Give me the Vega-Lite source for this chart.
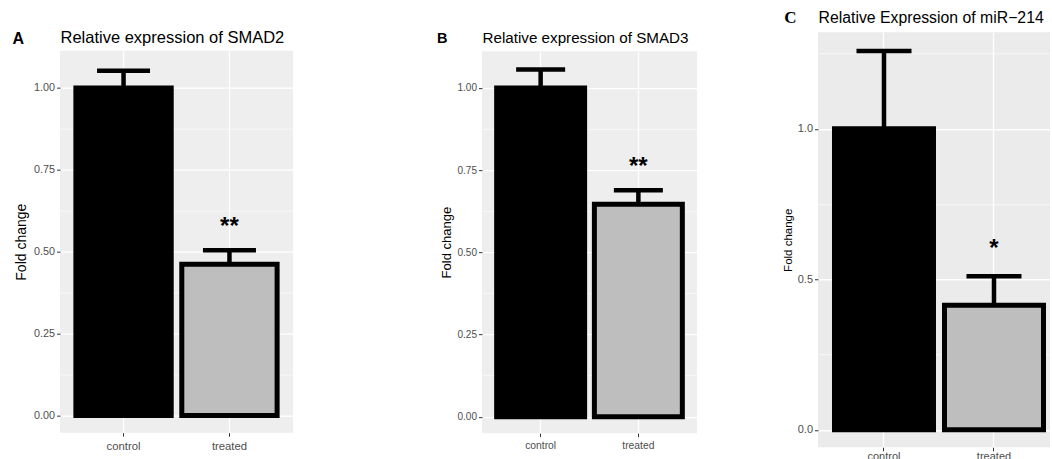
{
  "$schema": "https://vega.github.io/schema/vega-lite/v6.json",
  "padding": {"left": 12, "top": 9, "right": 0, "bottom": 0},
  "background": "white",
  "config": {"font": "Liberation Sans", "view": {"stroke": null}},
  "spacing": 85,
  "center": true,
  "hconcat": [
    {
      "spacing": 144,
      "center": true,
      "title": {"text": " ", "fontSize": 12, "offset": 4, "anchor": "start"},
      "hconcat": [
        {
          "width": 233,
          "height": 382,
          "view": {"fill": "#EEEEEE", "stroke": null},
          "title": {"text": "A", "anchor": "start", "frame": "bounds", "offset": -17.5, "dx": -2, "font": "Liberation Sans", "fontSize": 16, "fontWeight": "bold", "color": "black"},
          "data": {"values": [
            {"group": "control", "mean": 1.0, "upper": 1.053, "sig": ""},
            {"group": "treated", "mean": 0.462, "upper": 0.505, "sig": "**"}
          ]},
          "layer": [
            {
              "mark": {"type": "bar", "stroke": "black", "strokeWidth": 5},
              "encoding": {
                "x": {"field": "group", "type": "nominal", "title": null, "scale": {"paddingInner": 0.1, "paddingOuter": 0.15},
                  "axis": {"orient": "bottom", "labelAngle": 0, "labelColor": "#4D4D4D", "labelFontSize": 11.3, "tickColor": "#333333", "tickSize": 3.5, "domain": false, "grid": true, "gridColor": "white", "gridWidth": 1.3, "labelPadding": 4}},
                "y": {"field": "mean", "type": "quantitative", "title": "Fold change", "scale": {"domain": [-0.052, 1.114], "nice": false},
                  "axis": {"values": [0, 0.125, 0.25, 0.375, 0.5, 0.625, 0.75, 0.875, 1.0], "labelExpr": "datum.value % 0.25 === 0 ? format(datum.value, '.2f') : ''", "labelOverlap": false, "labelColor": "#4D4D4D", "labelFontSize": 10.8, "labelPadding": 2, "tickColor": "#333333", "tickSize": 3.5, "tickOpacity": {"condition": {"test": "datum.value % 0.25 === 0", "value": 1}, "value": 0}, "domain": false, "grid": true, "gridColor": "white", "gridWidth": {"condition": {"test": "datum.value % 0.25 === 0", "value": 1.3}, "value": 0.6}, "titleFontSize": 14, "titleFontWeight": "normal", "titleColor": "black", "titlePadding": 5}},
                "fill": {"field": "group", "type": "nominal", "scale": {"range": ["black", "#BEBEBE"]}, "legend": null}
              }
            },
            {
              "mark": {"type": "rule", "strokeWidth": 4.5, "color": "black"},
              "encoding": {
                "x": {"field": "group", "type": "nominal", "axis": {"orient": "top", "title": "Relative expression of SMAD2", "labels": false, "ticks": false, "domain": false, "grid": false, "titleAnchor": "start", "titleFontSize": 16.5, "titleFontWeight": "normal", "titleColor": "black", "titlePadding": 5}},
                "y": {"field": "mean", "type": "quantitative"},
                "y2": {"field": "upper"}
              }
            },
            {
              "mark": {"type": "tick", "orient": "horizontal", "thickness": 4.5, "size": 53, "color": "black", "opacity": 1},
              "encoding": {
                "x": {"field": "group", "type": "nominal", "axis": null},
                "y": {"field": "upper", "type": "quantitative"}
              }
            },
            {
              "mark": {"type": "text", "fontSize": 24, "fontWeight": "bold", "dy": -23, "baseline": "middle", "color": "black"},
              "encoding": {
                "x": {"field": "group", "type": "nominal", "axis": null},
                "y": {"field": "upper", "type": "quantitative"},
                "text": {"field": "sig"}
              }
            }
          ],
          "resolve": {"axis": {"x": "independent"}}
        },
        {
          "width": 215,
          "height": 382,
          "view": {"fill": "#EEEEEE", "stroke": null},
          "title": {"text": "B", "anchor": "start", "frame": "bounds", "offset": -16, "dx": -3, "font": "Liberation Sans", "fontSize": 14.5, "fontWeight": "bold", "color": "black"},
          "data": {"values": [
            {"group": "control", "mean": 1.0, "upper": 1.056, "sig": ""},
            {"group": "treated", "mean": 0.646, "upper": 0.689, "sig": "**"}
          ]},
          "layer": [
            {
              "mark": {"type": "bar", "stroke": "black", "strokeWidth": 5},
              "encoding": {
                "x": {"field": "group", "type": "nominal", "title": null, "scale": {"paddingInner": 0.1, "paddingOuter": 0.15},
                  "axis": {"orient": "bottom", "labelAngle": 0, "labelColor": "#4D4D4D", "labelFontSize": 10.3, "tickColor": "#333333", "tickSize": 3.5, "domain": false, "grid": true, "gridColor": "white", "gridWidth": 1.3, "labelPadding": 4}},
                "y": {"field": "mean", "type": "quantitative", "title": "Fold change", "scale": {"domain": [-0.05, 1.112], "nice": false},
                  "axis": {"values": [0, 0.125, 0.25, 0.375, 0.5, 0.625, 0.75, 0.875, 1.0], "labelExpr": "datum.value % 0.25 === 0 ? format(datum.value, '.2f') : ''", "labelOverlap": false, "labelColor": "#4D4D4D", "labelFontSize": 10, "labelPadding": 2, "tickColor": "#333333", "tickSize": 3.5, "tickOpacity": {"condition": {"test": "datum.value % 0.25 === 0", "value": 1}, "value": 0}, "domain": false, "grid": true, "gridColor": "white", "gridWidth": {"condition": {"test": "datum.value % 0.25 === 0", "value": 1.3}, "value": 0.6}, "titleFontSize": 13, "titleFontWeight": "normal", "titleColor": "black", "titlePadding": 4}},
                "fill": {"field": "group", "type": "nominal", "scale": {"range": ["black", "#BEBEBE"]}, "legend": null}
              }
            },
            {
              "mark": {"type": "rule", "strokeWidth": 4.5, "color": "black"},
              "encoding": {
                "x": {"field": "group", "type": "nominal", "axis": {"orient": "top", "title": "Relative expression of SMAD3", "labels": false, "ticks": false, "domain": false, "grid": false, "titleAnchor": "start", "titleFontSize": 15.2, "titleFontWeight": "normal", "titleColor": "black", "titlePadding": 6}},
                "y": {"field": "mean", "type": "quantitative"},
                "y2": {"field": "upper"}
              }
            },
            {
              "mark": {"type": "tick", "orient": "horizontal", "thickness": 4.5, "size": 49, "color": "black", "opacity": 1},
              "encoding": {
                "x": {"field": "group", "type": "nominal", "axis": null},
                "y": {"field": "upper", "type": "quantitative"}
              }
            },
            {
              "mark": {"type": "text", "fontSize": 24, "fontWeight": "bold", "dy": -23, "baseline": "middle", "color": "black"},
              "encoding": {
                "x": {"field": "group", "type": "nominal", "axis": null},
                "y": {"field": "upper", "type": "quantitative"},
                "text": {"field": "sig"}
              }
            }
          ],
          "resolve": {"axis": {"x": "independent"}}
        }
      ]
    },
    {
      "width": 232,
      "height": 415,
      "view": {"fill": "#EBEBEB", "stroke": null},
      "title": {"text": "C", "anchor": "start", "frame": "bounds", "offset": -18, "dx": 2, "font": "Liberation Serif", "fontSize": 17, "fontWeight": "bold", "color": "black"},
      "data": {"values": [
        {"group": "control", "mean": 1.0, "upper": 1.259, "sig": ""},
        {"group": "treated", "mean": 0.414, "upper": 0.51, "sig": "*"}
      ]},
      "layer": [
        {
          "mark": {"type": "bar", "stroke": "black", "strokeWidth": 5},
          "encoding": {
            "x": {"field": "group", "type": "nominal", "title": null, "scale": {"paddingInner": 0.1, "paddingOuter": 0.1045, "align": 0.717},
              "axis": {"orient": "bottom", "labelAngle": 0, "labelColor": "#4D4D4D", "labelFontSize": 11, "labelExpr": "[datum.label, '']", "labelLineHeight": 8, "tickColor": "#333333", "tickSize": 3.5, "domain": false, "grid": true, "gridColor": "white", "gridWidth": 1.3, "labelPadding": 0}},
            "y": {"field": "mean", "type": "quantitative", "title": "Fold change", "scale": {"domain": [-0.058, 1.321], "nice": false},
              "axis": {"values": [0, 0.25, 0.5, 0.75, 1.0, 1.25], "labelExpr": "datum.value % 0.5 === 0 ? format(datum.value, '.1f') : ''", "labelOverlap": false, "labelColor": "#4D4D4D", "labelFontSize": 11, "labelPadding": 2, "tickColor": "#333333", "tickSize": 3.5, "tickOpacity": {"condition": {"test": "datum.value % 0.5 === 0", "value": 1}, "value": 0}, "domain": false, "grid": true, "gridColor": "white", "gridWidth": {"condition": {"test": "datum.value % 0.5 === 0", "value": 1.3}, "value": 0.6}, "titleFontSize": 11.5, "titleFontWeight": "normal", "titleColor": "black", "titlePadding": 4}},
            "fill": {"field": "group", "type": "nominal", "scale": {"range": ["black", "#BEBEBE"]}, "legend": null}
          }
        },
        {
          "mark": {"type": "rule", "strokeWidth": 4.5, "color": "black"},
          "encoding": {
            "x": {"field": "group", "type": "nominal", "axis": {"orient": "top", "title": "Relative Expression of miR−214", "labels": false, "ticks": false, "domain": false, "grid": false, "titleAnchor": "start", "titleFontSize": 15.8, "titleFontWeight": "normal", "titleColor": "black", "titlePadding": 7}},
            "y": {"field": "mean", "type": "quantitative"},
            "y2": {"field": "upper"}
          }
        },
        {
          "mark": {"type": "tick", "orient": "horizontal", "thickness": 4.5, "size": 55, "color": "black", "opacity": 1},
          "encoding": {
            "x": {"field": "group", "type": "nominal", "axis": null},
            "y": {"field": "upper", "type": "quantitative"}
          }
        },
        {
          "mark": {"type": "text", "fontSize": 24, "fontWeight": "bold", "dy": -27, "baseline": "middle", "color": "black"},
          "encoding": {
            "x": {"field": "group", "type": "nominal", "axis": null},
            "y": {"field": "upper", "type": "quantitative"},
            "text": {"field": "sig"}
          }
        }
      ],
      "resolve": {"axis": {"x": "independent"}}
    }
  ]
}
